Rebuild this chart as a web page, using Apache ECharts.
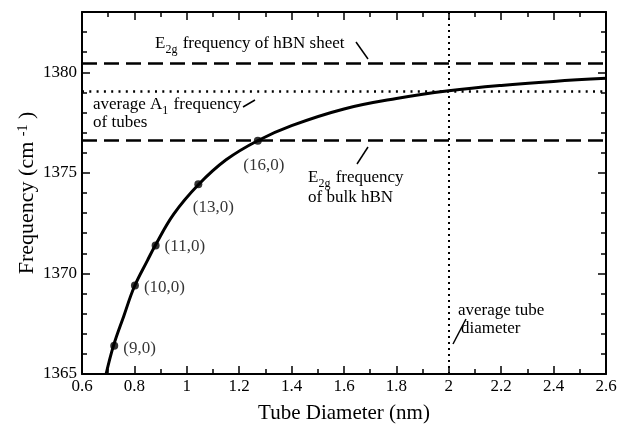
<!DOCTYPE html>
<html>
<head>
<meta charset="utf-8">
<script src="https://cdn.jsdelivr.net/npm/echarts@6/dist/echarts.min.js"></script>
<style>
  html, body { margin: 0; padding: 0; background: #fff; }
  #main { width: 621px; height: 429px; }
</style>
</head>
<body>
<div id="main"></div>
<script>
// curve
var curveDiameter = [0.692, 0.72, 0.76, 0.80, 0.85, 0.88, 0.95, 1.044, 1.15, 1.27, 1.4, 1.6, 1.8, 2.0, 2.2, 2.4, 2.6];
var curveFreq = [1365.0, 1366.4, 1367.9, 1369.35, 1370.65, 1371.4, 1372.95, 1374.41, 1375.65, 1376.6, 1377.35, 1378.18, 1378.7, 1379.08, 1379.35, 1379.55, 1379.7];

// zigzag tubes
var tubeNames = ['(9,0)', '(10,0)', '(11,0)', '(13,0)', '(16,0)'];
var tubeDiameter = [0.723, 0.802, 0.881, 1.044, 1.271];
var tubeFreq = [1366.4, 1369.4, 1371.39, 1374.43, 1376.6];

// reference lines
var sheetFreq = 1380.43;
var avgA1Freq = 1379.08;
var bulkFreq = 1376.6;
var avgDiameter = 2.0;

var FONT = 'Liberation Serif';
var chart = echarts.init(document.getElementById('main'));

function pairs(xs, ys) {
  return xs.map(function (x, i) { return [x, ys[i]]; });
}

// where each tube label sits
var labelPlace = [
  { position: 'right', offset: [0, 3] },
  { position: 'right', offset: [0, 2] },
  { position: 'right', offset: [0, 1] },
  { position: 'bottom', offset: [15, 6] },
  { position: 'bottom', offset: [6, 7] }
];
var tubeData = tubeNames.map(function (n, i) {
  return {
    name: n,
    value: [tubeDiameter[i], tubeFreq[i]],
    label: { show: true, formatter: n, position: labelPlace[i].position, offset: labelPlace[i].offset, distance: 5 }
  };
});

var xCommon = {
  type: 'value', min: 0.6, max: 2.6, interval: 0.2,
  axisLine: { show: true, onZero: false, lineStyle: { color: '#000', width: 2 } },
  axisTick: { show: true, inside: true, length: 8, lineStyle: { color: '#000', width: 1.5 } },
  minorTick: { show: true, splitNumber: 2, length: 5, lineStyle: { color: '#000', width: 1.5 } },
  splitLine: { show: false }
};
var yCommon = {
  type: 'value', min: 1365, max: 1383, interval: 5,
  axisLine: { show: true, onZero: false, lineStyle: { color: '#000', width: 2 } },
  axisTick: { show: true, inside: true, length: 8, lineStyle: { color: '#000', width: 1.5 } },
  minorTick: { show: true, splitNumber: 5, length: 5, lineStyle: { color: '#000', width: 1.5 } },
  splitLine: { show: false }
};

// text with subscripts, built from pieces measured on a canvas
var measure = document.createElement('canvas').getContext('2d');
function subNote(x, y, parts) {
  var out = [];
  var cx = x;
  parts.forEach(function (p) {
    var isSub = p[1] === 's';
    var font = (isSub ? '12px ' : '17px ') + FONT;
    measure.font = font;
    out.push({ type: 'text', x: cx, y: isSub ? y + 9 : y, z: 10, style: { text: p[0], fill: '#000', font: font } });
    cx += measure.measureText(p[0]).width + (isSub ? 1 : 0);
  });
  return out;
}
function plain(x, y, text) {
  return { type: 'text', x: x, y: y, z: 10, style: { text: text, fill: '#000', font: '17px ' + FONT } };
}
function leader(x1, y1, x2, y2) {
  return { type: 'line', z: 10, shape: { x1: x1, y1: y1, x2: x2, y2: y2 }, style: { stroke: '#000', lineWidth: 1.5 } };
}

var option = {
  backgroundColor: '#fff',
  animation: false,
  grid: { left: 82, right: 15, top: 12, bottom: 51, containLabel: false },
  xAxis: [
    Object.assign({}, xCommon, {
      position: 'bottom',
      name: 'Tube Diameter (nm)', nameLocation: 'middle', nameGap: 29,
      nameTextStyle: { fontFamily: FONT, fontSize: 21, color: '#000' },
      axisLabel: { show: true, margin: 4, fontFamily: FONT, fontSize: 17, color: '#000' }
    }),
    Object.assign({}, xCommon, { position: 'top', axisLabel: { show: false } })
  ],
  yAxis: [
    Object.assign({}, yCommon, {
      position: 'left',
      name: '{a|Frequency (cm }{sup|-1}{a| )}', nameLocation: 'middle', nameGap: 44,
      nameMoveOverlap: false,
      nameTextStyle: {
        rich: {
          a: { fontFamily: FONT, fontSize: 22, color: '#000', lineHeight: 22, verticalAlign: 'bottom' },
          sup: { fontFamily: FONT, fontSize: 14, color: '#000', lineHeight: 14, verticalAlign: 'top', padding: [0, 0, 12, 0] }
        }
      },
      axisLabel: {
        show: true, margin: 5, fontFamily: FONT, fontSize: 17, color: '#000',
        formatter: function (v) { return v % 5 === 0 ? String(v) : ''; }
      }
    }),
    Object.assign({}, yCommon, { position: 'right', axisLabel: { show: false } })
  ],
  series: [
    {
      type: 'line', name: 'refs', data: [], silent: true,
      markLine: {
        silent: true, symbol: 'none', label: { show: false }, animation: false,
        data: [
          { yAxis: sheetFreq, lineStyle: { color: '#000', width: 2.5, type: [15, 7] } },
          { yAxis: avgA1Freq, lineStyle: { color: '#000', width: 2.5, type: [2, 5.3] } },
          { yAxis: bulkFreq, lineStyle: { color: '#000', width: 2.5, type: [15, 7] } },
          { xAxis: avgDiameter, lineStyle: { color: '#000', width: 2, type: [2, 4] } }
        ]
      }
    },
    {
      type: 'line', name: 'curve', data: pairs(curveDiameter, curveFreq),
      showSymbol: false, smooth: 0.4, clip: true, z: 3,
      lineStyle: { color: '#000', width: 3 }
    },
    {
      type: 'scatter', name: 'tubes', data: tubeData, z: 4,
      symbol: 'circle', symbolSize: 8,
      itemStyle: { color: '#000' },
      label: { fontFamily: FONT, fontSize: 17, color: '#000' }
    }
  ],
  graphic: [].concat(
    subNote(155, 35, [['E', 'n'], ['2g', 's'], [' frequency of hBN sheet', 'n']]),
    [leader(356, 42, 368, 59)],
    subNote(93, 96, [['average A', 'n'], ['1', 's'], [' frequency', 'n']]),
    [plain(93, 114, 'of tubes'), leader(243, 107, 255, 100)],
    subNote(308, 169, [['E', 'n'], ['2g', 's'], [' frequency', 'n']]),
    [
      plain(308, 189, 'of bulk hBN'),
      leader(368, 147, 357, 164),
      plain(458, 302, 'average tube'),
      plain(461, 320, 'diameter'),
      leader(466, 319, 453, 344)
    ]
  )
};

chart.setOption(option);
</script>
</body>
</html>
